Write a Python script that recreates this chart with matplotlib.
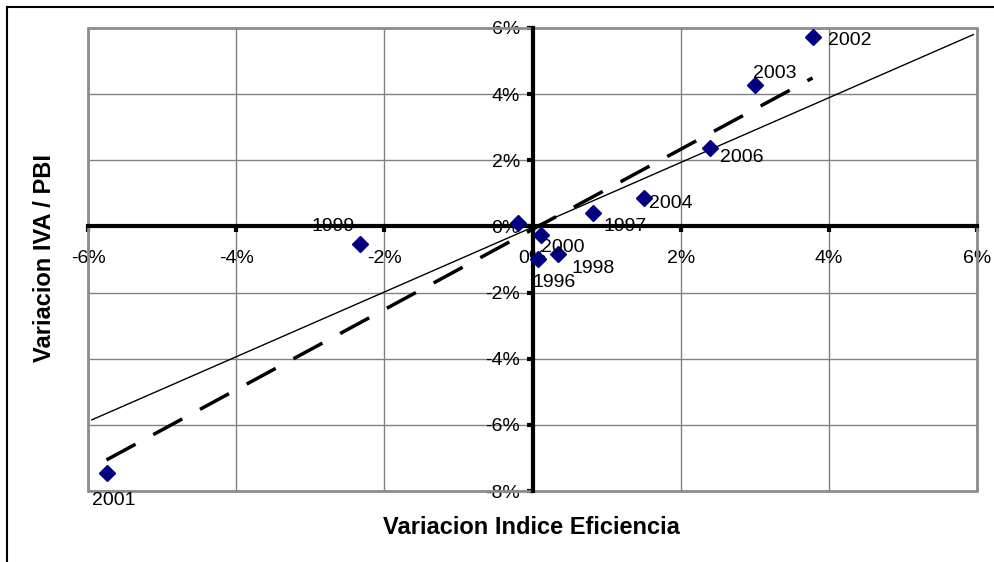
import matplotlib.pyplot as plt
from matplotlib.patches import Rectangle
from matplotlib.lines import Line2D
from matplotlib.ticker import FuncFormatter

plt.rcParams['font.family'] = ['Liberation Sans', 'DejaVu Sans']

# datos (en %)
anios = ['1996', '1997', '1998', '1999', '2000', '2001', '2002', '2003', '2004', '2006', '']
var_eficiencia = [0.08, 0.81, 0.34, -2.33, 0.12, -5.75, 3.78, 3.00, 1.51, 2.39, -0.20]
var_iva_pbi = [-0.97, 0.42, -0.82, -0.52, -0.27, -7.45, 5.73, 4.27, 0.85, 2.36, 0.09]

# lineas
tend_x = [-5.75, 3.78]
tend_y = [-7.06, 4.49]
ref_x = [-5.95, 5.95]
ref_y = [-5.85, 5.80]

x_ticks = [-6, -4, -2, 0, 2, 4, 6]
y_ticks = [-8, -6, -4, -2, 0, 2, 4, 6]

# desplazamiento de etiquetas en pixeles
offs = {'1996': (-6, -24, 'left'), '1997': (11, -14, 'left'), '1998': (14, -15, 'left'),
        '1999': (-5, 17, 'right'), '2000': (0, -12, 'left'), '2001': (-15, -28, 'left'),
        '2002': (15, -4, 'left'), '2003': (-2, 12, 'left'), '2004': (5, -5, 'left'),
        '2006': (10, -9, 'left')}

fig = plt.figure(figsize=(9.94, 5.62), dpi=100)
ax = fig.add_axes([88/994, 1-491/562, (977-88)/994, (491-28)/562])

ax.set_xlim(-6, 6)
ax.set_ylim(-8, 6)
ax.set_xticks(x_ticks)
ax.set_yticks(y_ticks)
ax.xaxis.set_major_formatter(FuncFormatter(lambda v, p: f'{v:.0f}%'))
ax.yaxis.set_major_formatter(FuncFormatter(lambda v, p: f'{v:.0f}%'))
ax.grid(True, color='#808080', lw=1, zorder=0)
ax.set_axisbelow(True)

for s in ['top', 'right']:
    ax.spines[s].set_visible(False)
ax.spines['left'].set_position(('data', 0))
ax.spines['bottom'].set_position(('data', 0))
ax.spines['left'].set_linewidth(3)
ax.spines['bottom'].set_linewidth(3)
ax.spines['left'].set_zorder(2.5)
ax.spines['bottom'].set_zorder(2.5)
ax.tick_params(axis='x', direction='out', length=4, width=3, pad=13, labelsize=14)
ax.tick_params(axis='y', direction='out', length=4, width=3, pad=5, labelsize=14)

ax.add_patch(Rectangle((0, 0), 1, 1, transform=ax.transAxes, fill=False,
                       edgecolor='#8c8c8c', lw=2, clip_on=False, zorder=1))

ax.plot(ref_x, ref_y, color='black', lw=1, zorder=2)
ax.plot(tend_x, tend_y, color='black', lw=2.5, dashes=(9.5, 5.8), zorder=2)
ax.plot(var_eficiencia, var_iva_pbi, 'D', color='#000080', markersize=8.5, zorder=3, clip_on=False)

for a, x, y in zip(anios, var_eficiencia, var_iva_pbi):
    if a in offs:
        dx, dy, ha = offs[a]
        ax.annotate(a, (x, y), xytext=(dx, dy), textcoords='offset pixels',
                    ha=ha, va='center', fontsize=14, zorder=4)

fig.text(531/994, 1-528/562, 'Variacion Indice Eficiencia', ha='center', va='center',
         fontsize=17, fontweight='bold')
fig.text(45/994, 1-258/562, 'Variacion IVA / PBI', ha='center', va='center',
         rotation=90, fontsize=17, fontweight='bold')

# borde exterior
fig.add_artist(Line2D([7/994, 7/994], [0, 1-7/562], color='black', lw=1.5, transform=fig.transFigure))
fig.add_artist(Line2D([7/994, 1], [1-7/562, 1-7/562], color='black', lw=1.5, transform=fig.transFigure))

fig.savefig('out.png', dpi=100)
